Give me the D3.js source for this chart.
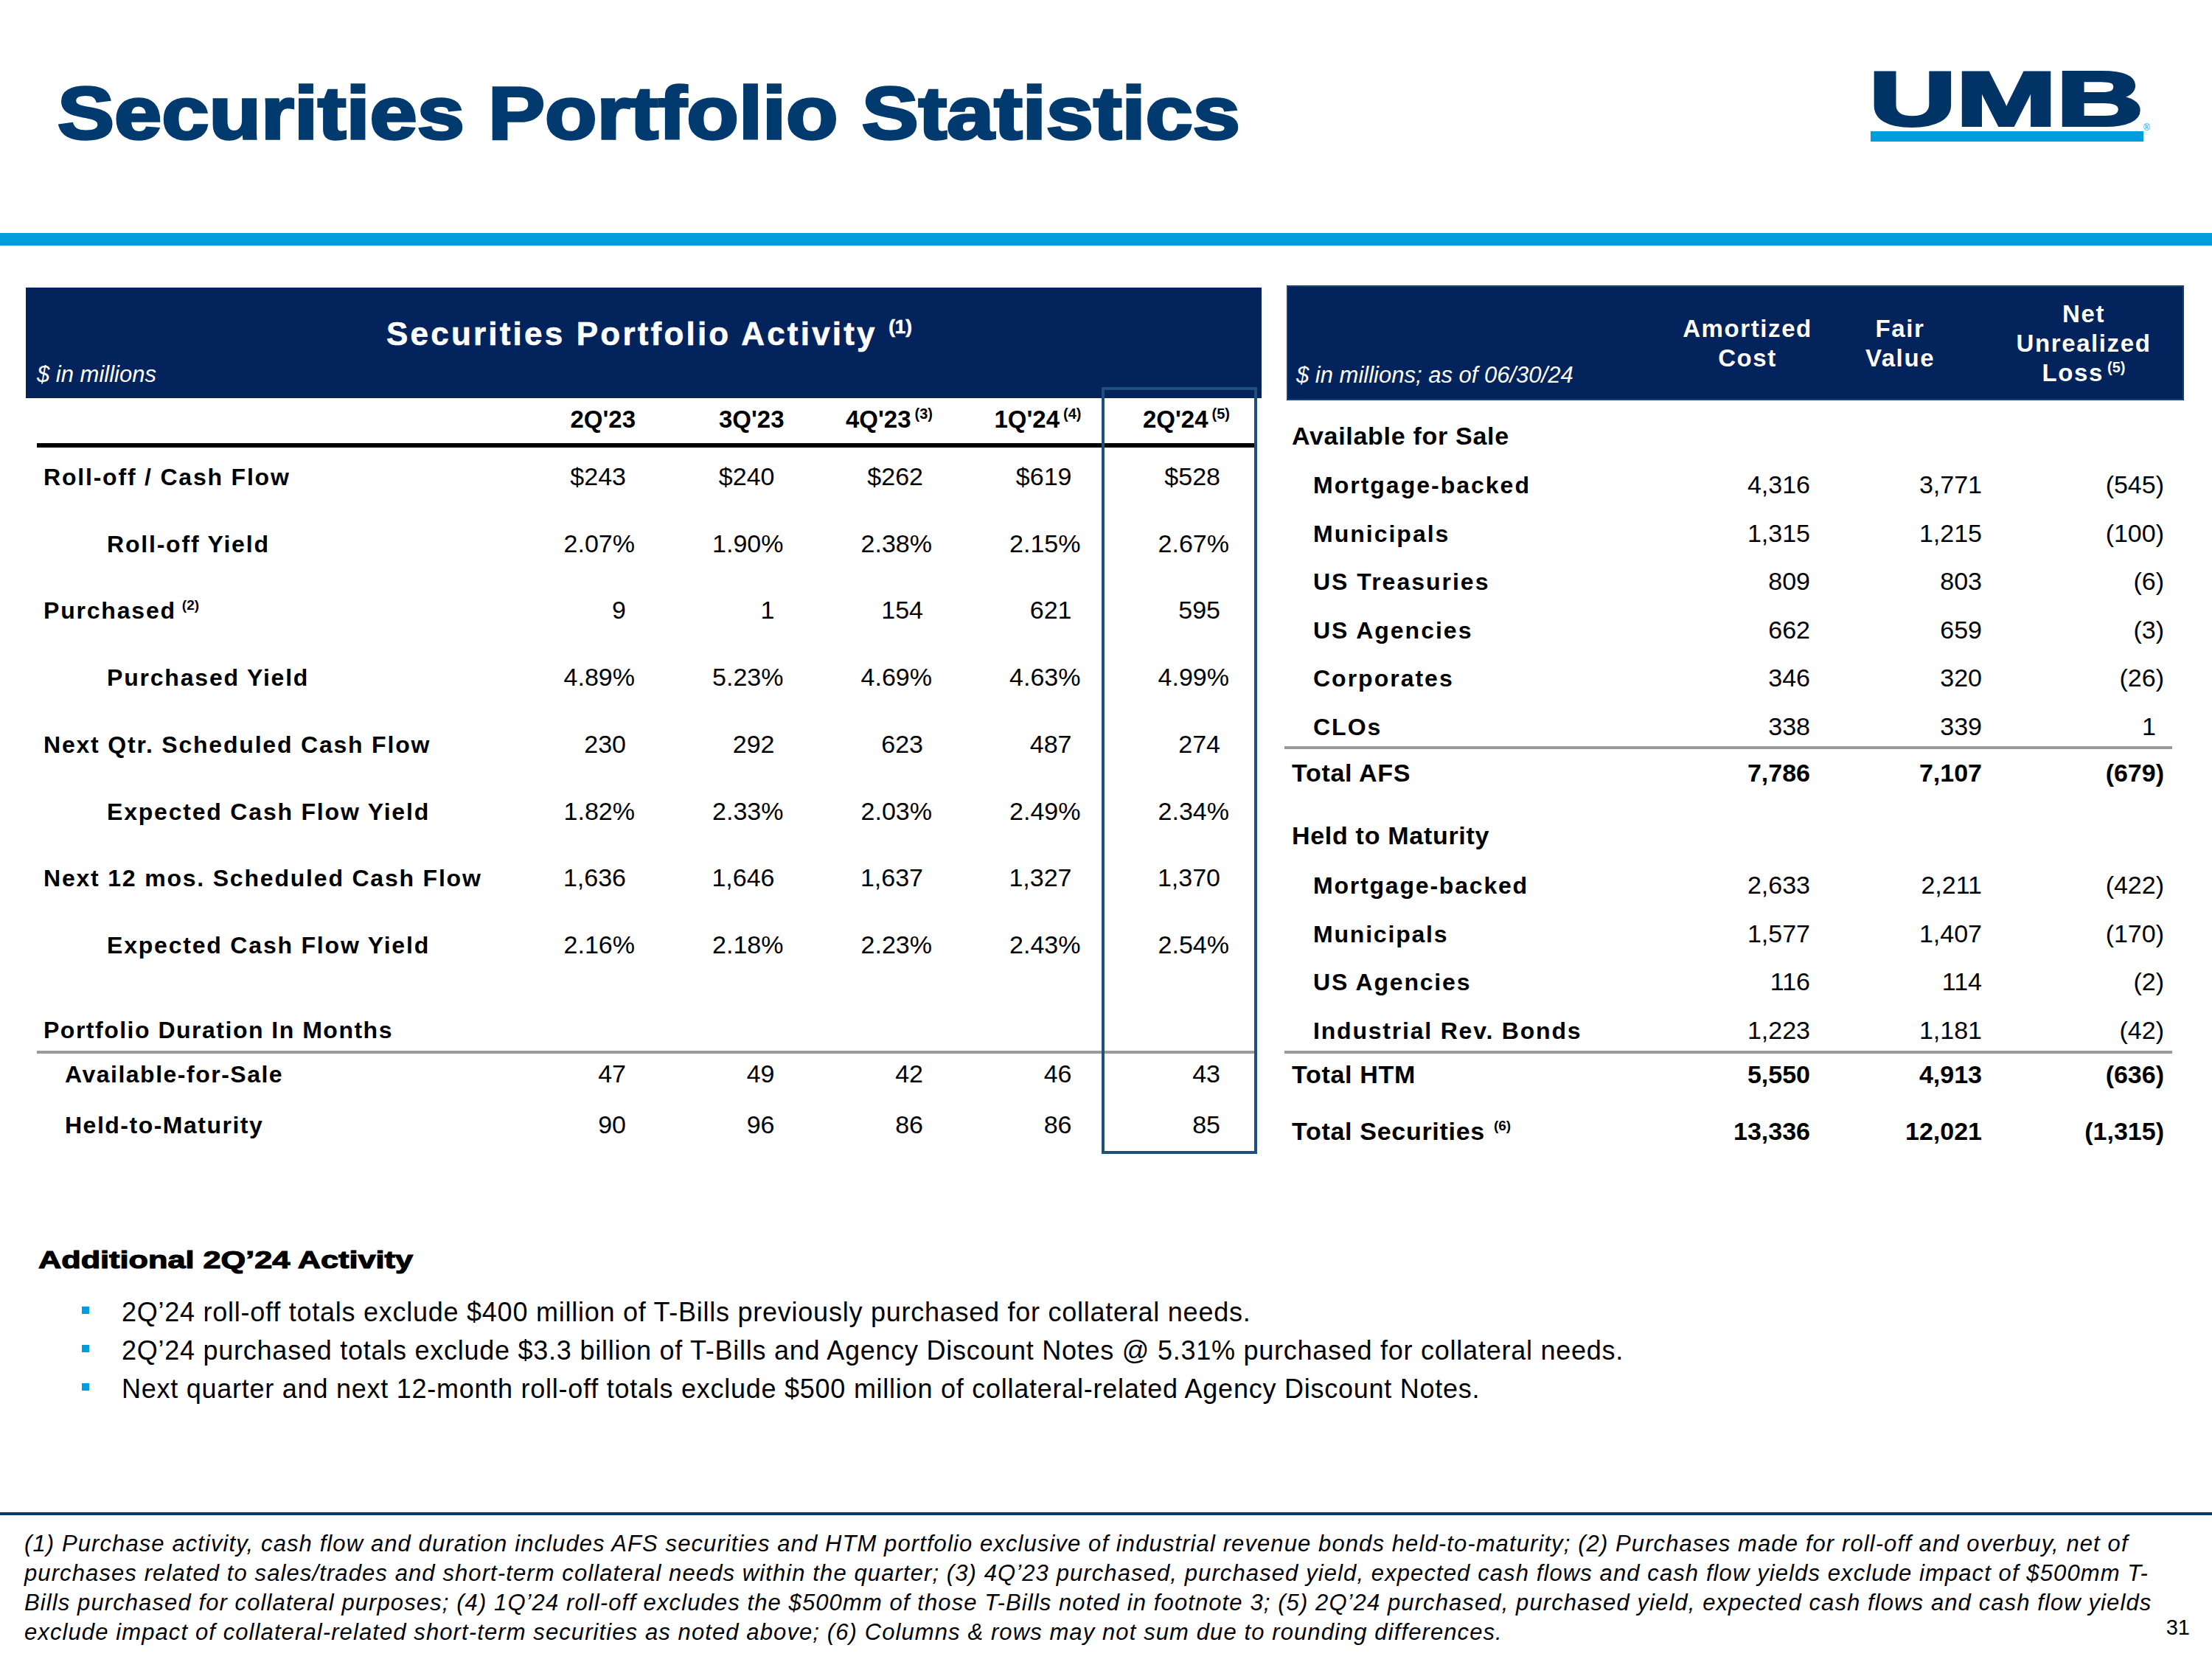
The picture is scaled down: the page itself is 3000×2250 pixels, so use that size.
<!DOCTYPE html>
<html>
<head>
<meta charset="utf-8">
<script src="https://cdn.jsdelivr.net/npm/d3@7"></script>
<style>
  html, body { margin: 0; padding: 0; background: #ffffff; }
  svg { display: block; font-family: "Liberation Sans", Arial, sans-serif; }
</style>
</head>
<body>
<script>
// ---------------- DATA ----------------
const quarters = ["2Q'23", "3Q'23", "4Q'23", "1Q'24", "2Q'24"];
const quarterNotes = ["", "", "(3)", "(4)", "(5)"];

const rollOff = [243, 240, 262, 619, 528];
const rollOffYield = [2.07, 1.90, 2.38, 2.15, 2.67];
const purchased = [9, 1, 154, 621, 595];
const purchasedYield = [4.89, 5.23, 4.69, 4.63, 4.99];
const nextQtrCashFlow = [230, 292, 623, 487, 274];
const nextQtrYield = [1.82, 2.33, 2.03, 2.49, 2.34];
const next12CashFlow = [1636, 1646, 1637, 1327, 1370];
const next12Yield = [2.16, 2.18, 2.23, 2.43, 2.54];
const durationAFS = [47, 49, 42, 46, 43];
const durationHTM = [90, 96, 86, 86, 85];

const activityLabels = ["Roll-off / Cash Flow", "Roll-off Yield", "Purchased", "Purchased Yield",
  "Next Qtr. Scheduled Cash Flow", "Expected Cash Flow Yield", "Next 12 mos. Scheduled Cash Flow", "Expected Cash Flow Yield"];
const durationLabels = ["Available-for-Sale", "Held-to-Maturity"];

const afsCategories = ["Mortgage-backed", "Municipals", "US Treasuries", "US Agencies", "Corporates", "CLOs"];
const afsAmortized = [4316, 1315, 809, 662, 346, 338];
const afsFair = [3771, 1215, 803, 659, 320, 339];
const afsNet = [-545, -100, -6, -3, -26, 1];
const afsTotal = [7786, 7107, -679];

const htmCategories = ["Mortgage-backed", "Municipals", "US Agencies", "Industrial Rev. Bonds"];
const htmAmortized = [2633, 1577, 116, 1223];
const htmFair = [2211, 1407, 114, 1181];
const htmNet = [-422, -170, -2, -42];
const htmTotal = [5550, 4913, -636];
const securitiesTotal = [13336, 12021, -1315];

const bullets = [
  "2Q\u201924 roll-off totals exclude $400 million of T-Bills previously purchased for collateral needs.",
  "2Q\u201924 purchased totals exclude $3.3 billion of T-Bills and Agency Discount Notes @ 5.31% purchased for collateral needs.",
  "Next quarter and next 12-month roll-off totals exclude $500 million of collateral-related Agency Discount Notes."
];
const footnotes = [
  "(1) Purchase activity, cash flow and duration includes AFS securities and HTM portfolio exclusive of industrial revenue bonds held-to-maturity; (2) Purchases made for roll-off and overbuy, net of",
  "purchases related to sales/trades and short-term collateral needs within the quarter; (3) 4Q\u201923 purchased, purchased yield, expected cash flows and cash flow yields exclude impact of $500mm T-",
  "Bills purchased for collateral purposes; (4) 1Q\u201924 roll-off excludes the $500mm of those T-Bills noted in footnote 3; (5) 2Q\u201924 purchased, purchased yield, expected cash flows and cash flow yields",
  "exclude impact of collateral-related short-term securities as noted above; (6) Columns & rows may not sum due to rounding differences."
];

// ---------------- STYLE ----------------
const NAVY = "#02235b", TITLE = "#003a6e", CYAN = "#009ddc", BOX = "#1d4f7f", GREY = "#9a9a9a";
const fmtInt = d3.format(",");
const fmtMoney = v => "$" + fmtInt(v);
const fmtPct = v => d3.format(".2f")(v) + "%";
const fmtParen = v => v < 0 ? "(" + fmtInt(-v) + ")" : fmtInt(v);

const svg = d3.select("body").append("svg").attr("width", 3000).attr("height", 2250);

// ---------------- TITLE / LOGO ----------------
svg.append("text").attr("x", 78).attr("y", 188)
  .attr("font-size", 100).attr("font-weight", "bold").attr("fill", TITLE)
  .attr("stroke", TITLE).attr("stroke-width", 3.5)
  .attr("textLength", 1604).attr("lengthAdjust", "spacingAndGlyphs")
  .text("Securities Portfolio Statistics");

svg.append("text").attr("x", 2535).attr("y", 170)
  .attr("font-size", 104).attr("font-weight", "bold").attr("fill", "#003366")
  .attr("stroke", "#003366").attr("stroke-width", 4)
  .attr("textLength", 372).attr("lengthAdjust", "spacingAndGlyphs")
  .text("UMB");
svg.append("rect").attr("x", 2537).attr("y", 178).attr("width", 370).attr("height", 14).attr("fill", CYAN);
svg.append("text").attr("x", 2907).attr("y", 177).attr("font-size", 12).attr("fill", CYAN).text("\u00AE");

svg.append("rect").attr("x", 0).attr("y", 316).attr("width", 3000).attr("height", 17).attr("fill", CYAN);

// ---------------- LEFT TABLE ----------------
svg.append("rect").attr("x", 35).attr("y", 390).attr("width", 1676).attr("height", 150).attr("fill", NAVY);
const lt = svg.append("text").attr("x", 524).attr("y", 468).attr("fill", "#fff")
  .attr("font-size", 44).attr("font-weight", "bold").attr("letter-spacing", 3.2)
  .attr("stroke", "#fff").attr("stroke-width", 0.6);
lt.append("tspan").text("Securities Portfolio Activity ");
lt.append("tspan").attr("font-size", 26).attr("dy", -16).attr("letter-spacing", 0).text("(1)");
svg.append("text").attr("x", 50).attr("y", 518).attr("fill", "#fff")
  .attr("font-size", 31).attr("font-style", "italic").text("$ in millions");

const colX = d3.scalePoint().domain(quarters).range([849, 1655]);

// header row
quarters.forEach((q, i) => {
  const t = svg.append("text").attr("x", colX(q) + 13).attr("y", 580)
    .attr("text-anchor", "end").attr("font-size", 33).attr("font-weight", "bold").attr("fill", "#000");
  t.append("tspan").text(q);
  if (quarterNotes[i]) t.append("tspan").attr("font-size", 20).attr("dy", -12).attr("dx", 5).text(quarterNotes[i]);
});
svg.append("rect").attr("x", 50).attr("y", 601).attr("width", 1653).attr("height", 6).attr("fill", "#000");

const activityRows = [
  { values: rollOff, fmt: fmtMoney, indent: false, pct: false, note: "" },
  { values: rollOffYield, fmt: fmtPct, indent: true, pct: true, note: "" },
  { values: purchased, fmt: fmtInt, indent: false, pct: false, note: "(2)" },
  { values: purchasedYield, fmt: fmtPct, indent: true, pct: true, note: "" },
  { values: nextQtrCashFlow, fmt: fmtInt, indent: false, pct: false, note: "" },
  { values: nextQtrYield, fmt: fmtPct, indent: true, pct: true, note: "" },
  { values: next12CashFlow, fmt: fmtInt, indent: false, pct: false, note: "" },
  { values: next12Yield, fmt: fmtPct, indent: true, pct: true, note: "" }
];
const rowY = d3.scalePoint().domain(d3.range(activityRows.length)).range([658, 1293]);

activityRows.forEach((r, i) => {
  const y = rowY(i);
  const lab = svg.append("text").attr("x", r.indent ? 145 : 59).attr("y", y)
    .attr("font-size", 32).attr("font-weight", "bold").attr("letter-spacing", 1.8).attr("fill", "#000");
  lab.append("tspan").text(activityLabels[i]);
  if (r.note) lab.append("tspan").attr("font-size", 19).attr("dy", -12).attr("dx", 8).attr("letter-spacing", 0).text(r.note);
  svg.append("g").selectAll("text").data(r.values).join("text")
    .attr("x", (d, j) => colX(quarters[j]) + (r.pct ? 12 : 0)).attr("y", y)
    .attr("text-anchor", "end").attr("font-size", 34).attr("fill", "#000")
    .text(d => r.fmt(d));
});

svg.append("text").attr("x", 59).attr("y", 1408).attr("font-size", 32).attr("font-weight", "bold")
  .attr("letter-spacing", 1.5).text("Portfolio Duration In Months");
svg.append("rect").attr("x", 50).attr("y", 1425).attr("width", 1653).attr("height", 4).attr("fill", GREY);

const durY = d3.scalePoint().domain(durationLabels).range([1468, 1537]);
[durationAFS, durationHTM].forEach((vals, i) => {
  const y = durY(durationLabels[i]);
  svg.append("text").attr("x", 88).attr("y", y).attr("font-size", 32).attr("font-weight", "bold")
    .attr("letter-spacing", 1.5).text(durationLabels[i]);
  svg.append("g").selectAll("text").data(vals).join("text")
    .attr("x", (d, j) => colX(quarters[j])).attr("y", y)
    .attr("text-anchor", "end").attr("font-size", 34).text(d => fmtInt(d));
});

// highlight box for latest quarter
svg.append("rect").attr("x", 1496).attr("y", 527).attr("width", 207).attr("height", 1036)
  .attr("fill", "none").attr("stroke", BOX).attr("stroke-width", 4);

// ---------------- RIGHT TABLE ----------------
svg.append("rect").attr("x", 1746).attr("y", 388).attr("width", 1215).attr("height", 154)
  .attr("fill", NAVY).attr("stroke", "#1b3f7a").attr("stroke-width", 2);
svg.append("text").attr("x", 1758).attr("y", 519).attr("fill", "#fff")
  .attr("font-size", 31).attr("font-style", "italic").text("$ in millions; as of 06/30/24");

const measures = ["amortized", "fair", "net"];
const mX = d3.scaleOrdinal().domain(measures).range([2455, 2688, 2935]);
const headCenters = d3.scaleOrdinal().domain(measures).range([2370, 2577, 2826]);
const headLines = { amortized: [["Amortized", 457], ["Cost", 497]], fair: [["Fair", 457], ["Value", 497]],
  net: [["Net", 437], ["Unrealized", 477], ["Loss", 517]] };
measures.forEach(m => {
  headLines[m].forEach(([txt, y]) => {
    const t = svg.append("text").attr("x", headCenters(m)).attr("y", y).attr("text-anchor", "middle")
      .attr("fill", "#fff").attr("font-size", 33).attr("font-weight", "bold").attr("letter-spacing", 1.6);
    t.append("tspan").text(txt);
    if (txt === "Loss") t.append("tspan").attr("font-size", 20).attr("dy", -12).attr("dx", 5).attr("letter-spacing", 0).text("(5)");
  });
});

function valueRow(y, vals, bold) {
  measures.forEach((m, k) => {
    const v = vals[k];
    const isNet = m === "net";
    svg.append("text").attr("x", mX(m) - (isNet && v >= 0 ? 11 : 0)).attr("y", y)
      .attr("text-anchor", "end").attr("font-size", 34).attr("font-weight", bold ? "bold" : "normal")
      .text(isNet ? fmtParen(v) : fmtInt(v));
  });
}
function sectionLabel(txt, y, note) {
  const t = svg.append("text").attr("x", 1752).attr("y", y).attr("font-size", 34).attr("font-weight", "bold")
    .attr("letter-spacing", 0.7);
  t.append("tspan").text(txt);
  if (note) t.append("tspan").attr("font-size", 19).attr("dy", -13).attr("dx", 12).attr("letter-spacing", 0).text(note);
}

sectionLabel("Available for Sale", 603);
const afsY = d3.scalePoint().domain(d3.range(afsCategories.length)).range([669, 997]);
afsCategories.forEach((c, i) => {
  svg.append("text").attr("x", 1781).attr("y", afsY(i)).attr("font-size", 32).attr("font-weight", "bold")
    .attr("letter-spacing", 2).text(c);
  valueRow(afsY(i), [afsAmortized[i], afsFair[i], afsNet[i]], false);
});
svg.append("rect").attr("x", 1742).attr("y", 1012).attr("width", 1204).attr("height", 4).attr("fill", GREY);
sectionLabel("Total AFS", 1060);
valueRow(1060, afsTotal, true);

sectionLabel("Held to Maturity", 1145);
const htmY = d3.scalePoint().domain(d3.range(htmCategories.length)).range([1212, 1409]);
htmCategories.forEach((c, i) => {
  svg.append("text").attr("x", 1781).attr("y", htmY(i)).attr("font-size", 32).attr("font-weight", "bold")
    .attr("letter-spacing", 1.8).text(c);
  valueRow(htmY(i), [htmAmortized[i], htmFair[i], htmNet[i]], false);
});
svg.append("rect").attr("x", 1742).attr("y", 1425).attr("width", 1204).attr("height", 4).attr("fill", GREY);
sectionLabel("Total HTM", 1469);
valueRow(1469, htmTotal, true);
sectionLabel("Total Securities", 1546, "(6)");
valueRow(1546, securitiesTotal, true);

// ---------------- ADDITIONAL ACTIVITY ----------------
svg.append("text").attr("x", 52).attr("y", 1720).attr("font-size", 34).attr("font-weight", "bold")
  .attr("stroke", "#000").attr("stroke-width", 1.2)
  .attr("textLength", 508).attr("lengthAdjust", "spacingAndGlyphs")
  .text("Additional 2Q\u201924 Activity");
const bulletY = d3.scalePoint().domain(d3.range(bullets.length)).range([1792, 1896]);
bullets.forEach((b, i) => {
  svg.append("rect").attr("x", 111).attr("y", bulletY(i) - 20).attr("width", 10).attr("height", 10).attr("fill", CYAN);
  svg.append("text").attr("x", 165).attr("y", bulletY(i)).attr("font-size", 36).attr("letter-spacing", 0.75).text(b);
});

// ---------------- FOOTNOTES ----------------
svg.append("rect").attr("x", 0).attr("y", 2051).attr("width", 3000).attr("height", 4).attr("fill", "#0d3a64");
const fnY = d3.scalePoint().domain(d3.range(footnotes.length)).range([2104, 2224]);
footnotes.forEach((f, i) => {
  svg.append("text").attr("x", 33).attr("y", fnY(i)).attr("font-size", 31).attr("font-style", "italic")
    .attr("letter-spacing", 1.1).text(f);
});
svg.append("text").attr("x", 2970).attr("y", 2217).attr("text-anchor", "end").attr("font-size", 29).text("31");
</script>
</body>
</html>
